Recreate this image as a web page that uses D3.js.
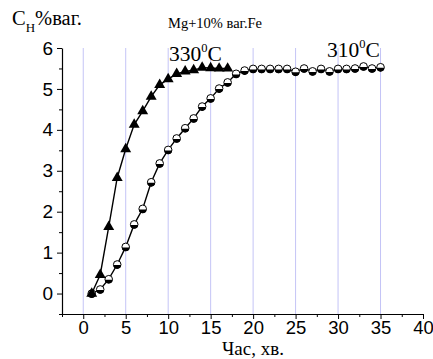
<!DOCTYPE html>
<html>
<head>
<meta charset="utf-8">
<script src="https://cdn.jsdelivr.net/npm/d3@7"></script>
<style>
  body { margin: 0; background: #fff; }
  svg { display: block; }
</style>
</head>
<body>
<div id="chart"></div>
<script>
// time, min
var time330 = [1, 2, 3, 4, 5, 6, 7, 8, 9, 10, 11, 12, 13, 14, 15, 16, 17];
var h330 = [0.0, 0.46, 1.63, 2.83, 3.53, 4.13, 4.46, 4.81, 5.10, 5.24, 5.37, 5.43, 5.46, 5.52, 5.51, 5.50, 5.50];

var time310 = [1, 2, 3, 4, 5, 6, 7, 8, 9, 10, 11, 12, 13, 14, 15, 16, 17, 18,
  19, 20, 21, 22, 23, 24, 25, 26, 27, 28, 29, 30, 31, 32, 33, 34, 35];
var h310 = [0.0, 0.10, 0.35, 0.71, 1.14, 1.69, 2.07, 2.72, 3.18, 3.51, 3.79, 4.04,
  4.28, 4.57, 4.77, 5.01, 5.16, 5.37, 5.45, 5.49, 5.49, 5.49, 5.49, 5.49, 5.42,
  5.50, 5.43, 5.49, 5.43, 5.49, 5.49, 5.50, 5.55, 5.50, 5.53];

var xTicks = [0, 5, 10, 15, 20, 25, 30, 35, 40];
var yTicks = [0, 1, 2, 3, 4, 5, 6];
var gridX = [0, 5, 10, 15, 20, 25, 30, 35];

var W = 433, H = 359;
var svg = d3.select('#chart').append('svg')
  .attr('width', W)
  .attr('height', H);

var x = d3.scaleLinear().domain([-2.5, 40]).range([62, 423]);
var y = d3.scaleLinear().domain([-0.5, 6]).range([314, 48]);

var serif = '"Liberation Serif", "Times New Roman", serif';
var sans = '"Liberation Sans", Arial, sans-serif';

// grid lines
svg.selectAll('line.grid').data(gridX)
  .enter().append('line')
  .attr('class', 'grid')
  .attr('x1', function (d) { return x(d); })
  .attr('x2', function (d) { return x(d); })
  .attr('y1', y(6))
  .attr('y2', y(-0.5))
  .attr('stroke', '#c4c4f6')
  .attr('stroke-width', 1);

// x axis
var xAxis = d3.axisBottom(x).tickValues(xTicks).tickSize(5).tickSizeOuter(0).tickPadding(2)
  .tickFormat(d3.format('d'));
var gx = svg.append('g').attr('transform', 'translate(0,' + y(-0.5) + ')').call(xAxis);
gx.selectAll('text').attr('font-family', sans).attr('font-size', 18.5).attr('fill', '#000');
gx.select('.domain').attr('stroke', '#000').attr('stroke-width', 1.2);
gx.selectAll('line').attr('stroke', '#000');
var xMinor = d3.axisBottom(x).tickValues(d3.range(-2.5, 40, 5)).tickSize(3).tickSizeOuter(0).tickFormat('');
var gxm = svg.append('g').attr('transform', 'translate(0,' + y(-0.5) + ')').call(xMinor);
gxm.select('.domain').remove();
gxm.selectAll('line').attr('stroke', '#000');

// y axis
var yAxis = d3.axisLeft(y).tickValues(yTicks).tickSize(5).tickSizeOuter(0).tickPadding(4)
  .tickFormat(d3.format('d'));
var gy = svg.append('g').attr('transform', 'translate(' + x(-2.5) + ',0)').call(yAxis);
gy.selectAll('text').attr('font-family', sans).attr('font-size', 19).attr('fill', '#000');
gy.select('.domain').attr('stroke', '#000').attr('stroke-width', 1.2);
gy.selectAll('line').attr('stroke', '#000');
var yMinor = d3.axisLeft(y).tickValues(d3.range(-0.5, 6, 1)).tickSize(3).tickSizeOuter(0).tickFormat('');
var gym = svg.append('g').attr('transform', 'translate(' + x(-2.5) + ',0)').call(yMinor);
gym.select('.domain').remove();
gym.selectAll('line').attr('stroke', '#000');

var line = d3.line()
  .x(function (d) { return x(d[0]); })
  .y(function (d) { return y(d[1]); });

var d310 = d3.zip(time310, h310);
var d330 = d3.zip(time330, h330);

// 310 series
svg.append('path').datum(d310)
  .attr('d', line)
  .attr('fill', 'none')
  .attr('stroke', '#000')
  .attr('stroke-width', 1.4);

var circ = svg.selectAll('g.c310').data(d310)
  .enter().append('g')
  .attr('class', 'c310')
  .attr('transform', function (d) { return 'translate(' + x(d[0]) + ',' + y(d[1]) + ')'; });
circ.append('circle')
  .attr('r', 3.8)
  .attr('fill', '#fff')
  .attr('stroke', '#000')
  .attr('stroke-width', 1);
circ.append('path')
  .attr('d', 'M-3.8,0.6 L3.8,0.6 A3.8,3.8 0 0,1 -3.8,0.6 Z')
  .attr('fill', '#000');

// 330 series
svg.append('path').datum(d330)
  .attr('d', line)
  .attr('fill', 'none')
  .attr('stroke', '#000')
  .attr('stroke-width', 1.4);

svg.selectAll('path.t330').data(d330)
  .enter().append('path')
  .attr('class', 't330')
  .attr('d', d3.symbol().type(d3.symbolTriangle).size(52))
  .attr('transform', function (d) { return 'translate(' + x(d[0]) + ',' + y(d[1]) + ')'; })
  .attr('fill', '#000');

// texts
var yl = svg.append('text').attr('x', 12).attr('y', 25)
  .attr('font-family', serif).attr('font-size', 20.5).attr('fill', '#000');
yl.append('tspan').text('C');
yl.append('tspan').attr('font-size', 13).attr('dy', 7).text('H');
yl.append('tspan').attr('dy', -7).text('%ваг.');

svg.append('text').attr('x', 168).attr('y', 28)
  .attr('font-family', serif).attr('font-size', 14.5).attr('fill', '#000')
  .text('Mg+10% ваг.Fe');

function tempLabel(px, py, t) {
  var tx = svg.append('text').attr('x', px).attr('y', py)
    .attr('font-family', serif).attr('font-size', 21.5).attr('fill', '#000');
  tx.append('tspan').text(t);
  tx.append('tspan').attr('font-size', 12.5).attr('dy', -9).text('0');
  tx.append('tspan').attr('dy', 9).text('C');
}
tempLabel(169, 61, '330');
tempLabel(327, 57, '310');

svg.append('text').attr('x', 222).attr('y', 355)
  .attr('font-family', serif).attr('font-size', 19).attr('fill', '#000')
  .text('Час, хв.');
</script>
</body>
</html>
